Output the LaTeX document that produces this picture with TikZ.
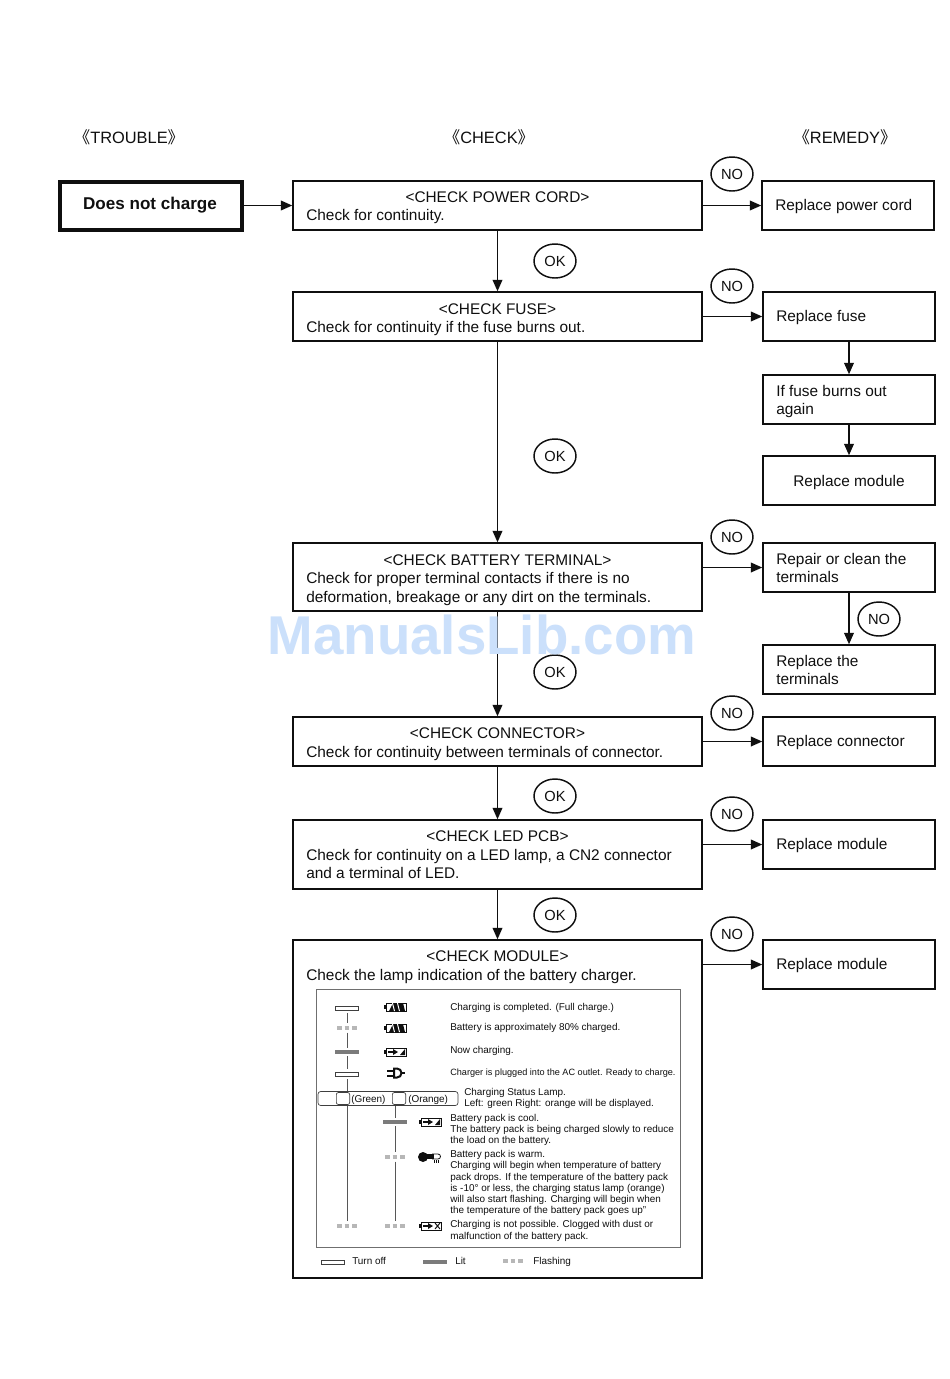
\documentclass[tikz,border=0pt]{standalone}
\usepackage{fontspec}
\setmainfont{Liberation Sans}
\newfontfamily\cjk{Noto Sans CJK SC}
\usetikzlibrary{arrows.meta,shapes.geometric}
\definecolor{ink}{gray}{0.06}
\definecolor{wm}{RGB}{203,224,251}
\newcommand{\bxx}[6][]{% name x1 y1 x2 y2
  \pgfmathsetmacro{\bw}{(#5-#3)*0.75}\pgfmathsetmacro{\bh}{(#6-#4)*0.75}
  \node[boxn,#1,minimum width=\bw pt,minimum height=\bh pt] (#2) at ({(#3+#5)/2},{(#4+#6)/2}) {};}
\newcommand{\lampoff}[3]{\node[lampoffn] (#1) at (#2,#3) {};}
\newcommand{\lamplit}[3]{\node[lamplitn] (#1) at (#2,#3) {};}
\newcommand{\lampfl}[3]{\node[lampfln] (#1) at (#2,#3) {\rule{3.6pt}{2.4pt}\hspace{2pt}\rule{3.6pt}{2.4pt}\hspace{2pt}\rule{3.6pt}{2.4pt}};}
\newcommand{\battfull}[2]{\begin{scope}[shift={(#1,#2)}]
  \draw[icon] (-9,-4) rectangle (11,4); \fill[ink] (-11,-2) rectangle (-9,2);
  \fill[ink] (-6,4) -- (-2,-4) -- (8,-4) -- (10,4) -- cycle;
  \fill[white] (-1,4) -- (-3,-4) -- (-2,-4) -- (0,4) -- cycle;
  \fill[white] (4,4) -- (2,-4) -- (3,-4) -- (5,4) -- cycle;\end{scope}}
\newcommand{\battchg}[2]{\begin{scope}[shift={(#1,#2)}]
  \draw[icon] (-9,-4) rectangle (11,4); \fill[ink] (-11,-2) rectangle (-9,2);
  \fill[ink] (5,3) -- (10,3) -- (10,-3) -- cycle;
  \fill[ink] (-7,-1) rectangle (-1,1); \fill[ink] (-2,-3) -- (3,0) -- (-2,3) -- cycle;\end{scope}}
\newcommand{\battx}[2]{\begin{scope}[shift={(#1,#2)}]
  \draw[icon] (-9,-4) rectangle (11,4); \fill[ink] (-11,-2) rectangle (-9,2);
  \fill[ink] (-7,-1) rectangle (-1,1); \fill[ink] (-2,-3) -- (3,0) -- (-2,3) -- cycle;
  \draw[ink,line width=.7pt] (5,-3) -- (10,3) (5,3) -- (10,-3);\end{scope}}
\newcommand{\plugicon}[2]{\begin{scope}[shift={(#1,#2)}]
  \draw[ink,line width=1.5pt] (-1,-4.5) -- (2,-4.5) arc (-90:90:4.5) -- (-1,4.5) -- cycle;
  \draw[ink,line width=1.5pt] (6,0) -- (10,0) (-1,-2.5) -- (-8,-2.5) (-1,2.5) -- (-8,2.5);\end{scope}}
\newcommand{\thermo}[2]{\begin{scope}[shift={(#1,#2)}]
  \fill[ink] (-7,0) circle (5);
  \fill[ink] (-4,-3) rectangle (4,2);
  \draw[icon] (2,-3) -- (8,-3) arc (-90:90:2.5) -- (2,2);
  \draw[ink,line width=.4pt] (4,3) -- (4,6) (6,3) -- (6,6) (8,3) -- (8,6);\end{scope}}
\tikzset{x=0.75pt,y=-0.75pt,
  boxn/.style={draw=ink,line width=1.1pt,inner sep=0pt,fill=white},
  tr/.style={font=\fontsize{11.55}{13}\selectfont,text=ink,inner sep=0pt,anchor=base},
  tl/.style={tr,anchor=base west},
  hd/.style={font=\fontsize{12.3}{14}\selectfont,text=ink,inner sep=0pt},
  sm/.style={font=\fontsize{7.45}{8.5}\selectfont,text=ink,inner sep=0pt,anchor=base west},
  oval/.style={draw=ink,line width=1.1pt,ellipse,minimum width=31.5pt,minimum height=25.5pt,inner sep=0pt,font=\fontsize{11}{13}\selectfont,text=ink},
  flow/.style={draw=ink,line width=1.15pt,-{Triangle[length=8.5pt,width=7.2pt]}},
  lampoffn/.style={draw=ink!80,line width=.5pt,fill=white,minimum width=17pt,minimum height=3pt,inner sep=0pt},
  lamplitn/.style={draw=ink!55,line width=.4pt,fill=ink!55,minimum width=17pt,minimum height=2.2pt,inner sep=0pt},
  lampfln/.style={text=ink!30,inner sep=0pt,font=\fontsize{3}{3}\selectfont},
  ln/.style={draw=ink!70,line width=.6pt,shorten <=2pt,shorten >=2pt},
  icon/.style={draw=ink,line width=.6pt},
}
\begin{document}
\begin{tikzpicture}
\useasboundingbox (0,0) rectangle (950,1379);
\fill[white] (0,0) rectangle (950,1379);
% headers
\node[hd] (h1) at (129,137) {{\cjk《}TROUBLE{\cjk》}};
\node[hd] (h2) at (489,137) {{\cjk《}CHECK{\cjk》}};
\node[hd] (h3) at (845,137) {{\cjk《}REMEDY{\cjk》}};
% trouble
\bxx[line width=3pt]{T}{59.5}{181.5}{241.5}{229.5}
\node[font=\fontsize{12.8}{15}\selectfont\bfseries,text=ink,inner sep=0pt] (Tt) at (150,205) {Does not charge};
% check boxes
\bxx{B1}{293}{181}{702}{230}
\bxx{B2}{293}{292}{702}{341}
\bxx{B3}{293}{543}{702}{611}
\bxx{B4}{293}{717}{702}{766}
\bxx{B5}{293}{820}{702}{889}
\bxx{B6}{293}{940}{702}{1278}
% remedy boxes
\bxx{R1}{762}{181}{934}{230}
\bxx{R2}{763}{292}{935}{341}
\bxx{R2b}{763}{375}{935}{424}
\bxx{R2c}{763}{456}{935}{505}
\bxx{R3}{763}{543}{935}{592}
\bxx{R3b}{763}{645}{935}{694}
\bxx{R4}{763}{717}{935}{766}
\bxx{R5}{763}{820}{935}{869}
\bxx{R6}{763}{940}{935}{989}
% connectors
\draw[flow] (T) -- (B1);
\draw[flow] (B1) -- (R1);
\draw[flow] (B2) -- (R2);
\draw[flow] (B3.east |- R3.west) -- (R3.west);
\draw[flow] (B4) -- (R4);
\draw[flow] (B5.east |- R5.west) -- (R5.west);
\draw[flow] (B6.east |- R6.west) -- (R6.west);
\draw[flow] (B1) -- (B2);
\draw[flow] (B2) -- (B3);
\draw[flow] (B3) -- (B4);
\draw[flow] (B4) -- (B5);
\draw[flow] (B5) -- (B6);
\draw[flow] (R2) -- (R2b);
\draw[flow] (R2b) -- (R2c);
\draw[flow] (R3) -- (R3b);
% ovals
\foreach \n/\x/\y in {n1/732/174,n2/732/286,n3/732/537,n4/732/713,n5/732/814,n6/732/934,n7/879/619}
  \node[oval,fill=white] (\n) at (\x,\y) {NO};
\foreach \n/\x/\y in {k1/555/261,k2/555/456,k3/555/672,k4/555/796,k5/555/915}
  \node[oval] (\n) at (\x,\y) {OK};
% box texts
\node[tr] (b1a) at (497.5,202) {<CHECK POWER CORD>};
\node[tl] (b1b) at (306,220.5) {Check for continuity.};
\node[tr] (b2a) at (497.5,314) {<CHECK FUSE>};
\node[tl] (b2b) at (306,332.5) {Check for continuity if the fuse burns out.};
\node[tr] (b3a) at (497.5,565) {<CHECK BATTERY TERMINAL>};
\node[tl] (b3b) at (306,583.5) {Check for proper terminal contacts if there is no};
\node[tl] (b3c) at (306,602) {deformation, breakage or any dirt on the terminals.};
\node[tr] (b4a) at (497.5,738.5) {<CHECK CONNECTOR>};
\node[tl] (b4b) at (306,757.5) {Check for continuity between terminals of connector.};
\node[tr] (b5a) at (497.5,841.5) {<CHECK LED PCB>};
\node[tl] (b5b) at (306,860.5) {Check for continuity on a LED lamp, a CN2 connector};
\node[tl] (b5c) at (306,878.5) {and a terminal of LED.};
\node[tr] (b6a) at (497.5,961.5) {<CHECK MODULE>};
\node[tl] (b6b) at (306,980.5) {Check the lamp indication of the battery charger.};
\node[tl] (r1t) at (775,210.5) {Replace power cord};
\node[tl] (r2t) at (776,321.5) {Replace fuse};
\node[tl] (r2ba) at (776,396.5) {If fuse burns out};
\node[tl] (r2bb) at (776,414.5) {again};
\node[tr] (r2ct) at (849,486.5) {Replace module};
\node[tl] (r3a) at (776,564.5) {Repair or clean the};
\node[tl] (r3b) at (776,582.5) {terminals};
\node[tl] (r3ca) at (776,666.5) {Replace the};
\node[tl] (r3cb) at (776,684.5) {terminals};
\node[tl] (r4t) at (776,746.5) {Replace connector};
\node[tl] (r5t) at (776,849.5) {Replace module};
\node[tl] (r6t) at (776,969.5) {Replace module};
% inner panel
\node[draw=ink!60,line width=.7pt,minimum width=273pt,minimum height=193.5pt,inner sep=0pt] (P) at (498,1118) {};
\lampoff{o1}{347}{1008} \lampfl{f1}{347}{1028} \lamplit{l1}{347}{1052} \lampoff{o2}{347}{1074}
\node[draw=ink!80,line width=.5pt,rounded corners=2pt,minimum width=105pt,minimum height=10.5pt,inner sep=0pt] (S) at (388,1098.5) {};
\node[draw=ink!80,line width=.5pt,rounded corners=1.5pt,minimum width=10pt,minimum height=9pt,inner sep=0pt] (S1) at (343,1098.5) {};
\node[draw=ink!80,line width=.5pt,rounded corners=1.5pt,minimum width=10pt,minimum height=9pt,inner sep=0pt] (S2) at (399,1098.5) {};
\node[sm] (sg) at (351,1102) {(Green)};
\node[sm] (so) at (408,1102) {(Orange)};
\lamplit{l2}{395}{1122} \lampfl{f2}{395}{1157}
\lampfl{f3}{347}{1226} \lampfl{f4}{395}{1226}
\draw[ln] (o1) -- (f1); \draw[ln] (f1) -- (l1); \draw[ln] (l1) -- (o2); \draw[ln,shorten >=0pt] (o2) -- (o2 |- S.north);
\draw[ln,shorten <=0pt] (S.south -| f3) -- (f3);
\draw[ln,shorten <=0pt] (S.south -| l2) -- (l2); \draw[ln] (l2) -- (f2); \draw[ln] (f2) -- (f4);
\battfull{395}{1007} \battfull{395}{1028} \battchg{395}{1052} \plugicon{395}{1073}
\battchg{430}{1122} \thermo{430}{1157} \battx{430}{1226}
\foreach \n/\x/\y/\t in {
 s1/450/1010/{Charging is completed. (Full charge.)},
 s2/450/1030/{Battery is approximately 80\% charged.},
 s3/450/1053/{Now charging.},
 s5/464/1095/{Charging Status Lamp.},
 s6/464/1106.5/{Left: green Right: orange will be displayed.},
 s7/450/1121/{Battery pack is cool.},
 s8/450/1132/{The battery pack is being charged slowly to reduce},
 s9/450/1143.5/{the load on the battery.},
 s10/450/1157.5/{Battery pack is warm.},
 s11/450/1168.5/{Charging will begin when temperature of battery},
 s12/450/1180/{pack drops. If the temperature of the battery pack},
 s13/450/1191/{is -10° or less, the charging status lamp (orange)},
 s14/450/1202.5/{will also start flashing. Charging will begin when},
 s15/450/1213.5/{the temperature of the battery pack goes up"},
 s16/450/1227/{Charging is not possible. Clogged with dust or},
 s17/450/1239/{malfunction of the battery pack.},
 s18/352/1264/{Turn off},
 s19/455/1264/{Lit},
 s20/533/1264/{Flashing}}
  \node[sm] (\n) at (\x,\y) {\t};
\node[sm,font=\fontsize{6.85}{8.5}\selectfont] (s4) at (450,1075) {Charger is plugged into the AC outlet. Ready to charge.};
\lampoff{o3}{333}{1262} \lamplit{l3}{435}{1262} \lampfl{f5}{513}{1261}
% watermark
\node[font=\fontsize{41}{45}\selectfont\bfseries,text=wm,inner sep=0pt] (W) at (482,635) {ManualsLib.com};
\end{tikzpicture}
\end{document}
